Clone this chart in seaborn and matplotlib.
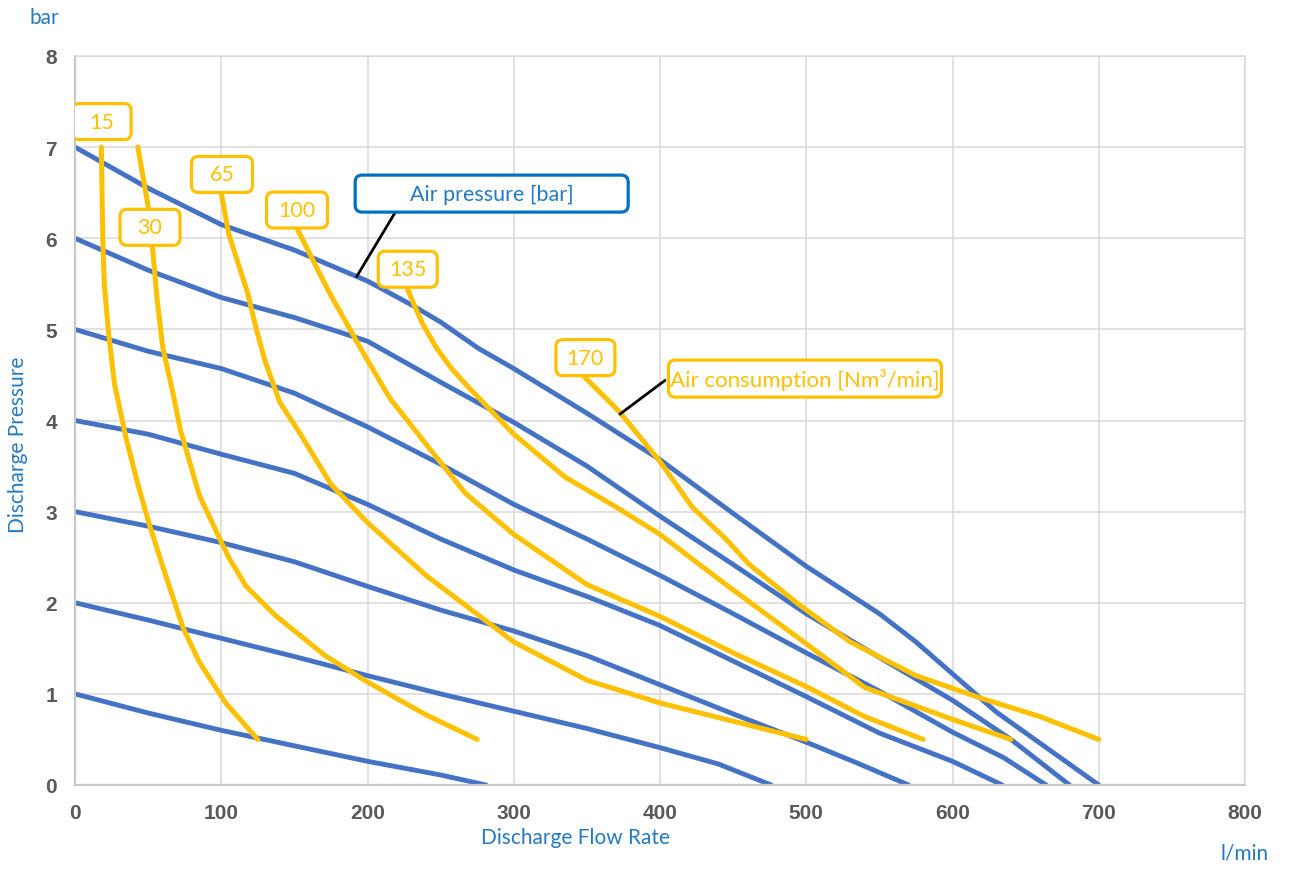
import matplotlib
matplotlib.use("Agg")
import matplotlib.pyplot as plt
from matplotlib.patches import FancyBboxPatch
import seaborn as sns
import pandas as pd

# air pressure curves [bar] -> (flow l/min, discharge pressure bar)
p1_x = [0, 50, 100, 150, 200, 250, 281]
p1_y = [1, 0.79, 0.6, 0.43, 0.26, 0.11, 0]
p2_x = [0, 50, 100, 150, 200, 250, 300, 350, 400, 440, 476]
p2_y = [2, 1.81, 1.61, 1.41, 1.2, 1.0, 0.81, 0.62, 0.41, 0.23, 0]
p3_x = [0, 50, 100, 150, 200, 250, 300, 350, 400, 450, 500, 535, 570]
p3_y = [3, 2.84, 2.66, 2.45, 2.18, 1.92, 1.69, 1.42, 1.1, 0.78, 0.47, 0.24, 0]
p4_x = [0, 50, 100, 150, 200, 250, 300, 350, 400, 450, 500, 550, 600, 634]
p4_y = [4, 3.85, 3.63, 3.42, 3.08, 2.7, 2.36, 2.07, 1.75, 1.36, 0.97, 0.57, 0.26, 0]
p5_x = [0, 50, 100, 150, 200, 250, 300, 350, 400, 450, 500, 550, 600, 635, 664]
p5_y = [5, 4.76, 4.57, 4.3, 3.93, 3.52, 3.08, 2.7, 2.3, 1.88, 1.45, 1.03, 0.58, 0.3, 0]
p6_x = [0, 50, 100, 150, 200, 250, 300, 350, 400, 450, 500, 550, 600, 640, 680]
p6_y = [6, 5.65, 5.35, 5.13, 4.87, 4.42, 3.98, 3.5, 2.95, 2.42, 1.88, 1.4, 0.93, 0.5, 0]
p7_x = [0, 50, 100, 150, 200, 230, 250, 276, 300, 350, 400, 450, 500, 550, 575, 600, 630, 665, 700]
p7_y = [7, 6.55, 6.15, 5.87, 5.53, 5.27, 5.08, 4.79, 4.57, 4.08, 3.57, 2.98, 2.4, 1.88, 1.57, 1.22, 0.8, 0.4, 0]
pressure_labels = ["1", "2", "3", "4", "5", "6", "7"]

# air consumption curves [Nm3/min]
c15_x = [18, 19, 20, 23, 27, 35, 43, 51, 62, 74, 85, 103, 125]
c15_y = [7.0, 6.0, 5.5, 4.95, 4.4, 3.8, 3.3, 2.85, 2.3, 1.72, 1.35, 0.9, 0.5]
c30_x = [43, 50, 53, 56, 60, 67, 72, 85, 99, 105, 117, 137, 171, 200, 240, 275]
c30_y = [7.0, 6.35, 5.9, 5.35, 4.8, 4.3, 3.9, 3.18, 2.7, 2.5, 2.18, 1.86, 1.42, 1.13, 0.77, 0.5]
c65_x = [100, 105, 110, 118, 124, 130, 140, 153, 175, 200, 240, 300, 350, 400, 450, 500]
c65_y = [6.5, 6.05, 5.8, 5.4, 5.0, 4.65, 4.2, 3.88, 3.3, 2.88, 2.3, 1.57, 1.15, 0.9, 0.7, 0.5]
c100_x = [152, 174, 195, 215, 242, 267, 300, 350, 400, 450, 500, 540, 580]
c100_y = [6.1, 5.4, 4.8, 4.25, 3.7, 3.2, 2.75, 2.2, 1.85, 1.45, 1.08, 0.75, 0.5]
c135_x = [226, 231, 238, 247, 257, 267, 300, 335, 370, 400, 445, 500, 540, 600, 640]
c135_y = [5.5, 5.3, 5.05, 4.8, 4.58, 4.4, 3.85, 3.38, 3.05, 2.75, 2.2, 1.55, 1.07, 0.72, 0.5]
c170_x = [347, 372, 400, 422, 445, 461, 495, 530, 575, 620, 660, 700]
c170_y = [4.5, 4.1, 3.55, 3.05, 2.7, 2.42, 1.98, 1.57, 1.2, 0.95, 0.75, 0.5]
consumption_labels = ["15", "30", "65", "100", "135", "170"]

x_ticks = [0, 100, 200, 300, 400, 500, 600, 700, 800]
y_ticks = [0, 1, 2, 3, 4, 5, 6, 7, 8]

BLUE = "#4472C4"
ORANGE = "#FFC000"
TEXT_BLUE = "#2479C4"
BOX_BLUE = "#0070C0"

pressure = [(p1_x, p1_y), (p2_x, p2_y), (p3_x, p3_y), (p4_x, p4_y),
            (p5_x, p5_y), (p6_x, p6_y), (p7_x, p7_y)]
consumption = [(c15_x, c15_y), (c30_x, c30_y), (c65_x, c65_y),
               (c100_x, c100_y), (c135_x, c135_y), (c170_x, c170_y)]


def to_frame(curves, names):
    parts = []
    for (xs, ys), name in zip(curves, names):
        parts.append(pd.DataFrame({"flow": xs, "pressure": ys, "curve": name}))
    return pd.concat(parts, ignore_index=True)


df_p = to_frame(pressure, pressure_labels)
df_c = to_frame(consumption, consumption_labels)

sns.set_theme(style="white")
plt.rcParams["font.family"] = ["Lato", "DejaVu Sans"]

W, H = 1290, 870
AX_L, AX_B, AX_W, AX_H = 75, 84, 1170, 729
fig = plt.figure(figsize=(W / 100, H / 100), dpi=100)
ax = fig.add_axes([AX_L / W, AX_B / H, AX_W / W, AX_H / H])

sns.lineplot(data=df_p, x="flow", y="pressure", hue="curve", units="curve",
             estimator=None, sort=False, palette=[BLUE] * 7, lw=3.5,
             legend=False, ax=ax, zorder=2)
sns.lineplot(data=df_c, x="flow", y="pressure", hue="curve", units="curve",
             estimator=None, sort=False, palette=[ORANGE] * 6, lw=3.6,
             legend=False, ax=ax, zorder=3)
for line in ax.lines:
    line.set_solid_capstyle("round")
    line.set_solid_joinstyle("round")

ax.set_xlim(0, 800)
ax.set_ylim(0, 8)
ax.set_xticks(x_ticks)
ax.set_yticks(y_ticks)
ax.grid(True, color="#D9D9D9", lw=1.1)
ax.set_axisbelow(True)
for side in ["top", "right"]:
    ax.spines[side].set_color("#D9D9D9")
    ax.spines[side].set_linewidth(1.1)
for side in ["left", "bottom"]:
    ax.spines[side].set_color("#C8C8C8")
    ax.spines[side].set_linewidth(1.6)
ax.tick_params(axis="both", length=0, labelsize=15, labelcolor="#595959")
ax.tick_params(axis="x", pad=13)
ax.tick_params(axis="y", pad=13)
for lab in ax.get_xticklabels() + ax.get_yticklabels():
    lab.set_fontweight("bold")
    lab.set_family(["Liberation Sans", "DejaVu Sans"])
ax.set_xlabel("")
ax.set_ylabel("")

# pixel -> data scale for the tag boxes
ux = 800 / AX_W
uy = 8 / AX_H


def tag(cx, cy, text, w_px, h_px, edge, color, size=15):
    w, h = w_px * ux, h_px * uy
    box = FancyBboxPatch((cx - w / 2, cy - h / 2), w, h,
                         boxstyle="round,pad=0,rounding_size=%.3f" % (7 * ux),
                         mutation_aspect=uy / ux, fc="white", ec=edge,
                         lw=2.3, zorder=5)
    ax.add_patch(box)
    ax.text(cx, cy, text, color=color, fontsize=size, ha="center",
            va="center", zorder=6)


tag_pos = {"15": (18.2, 7.28), "30": (51.3, 6.12), "65": (100.5, 6.70),
           "100": (151.8, 6.31), "135": (227.5, 5.66), "170": (349, 4.69)}
tag_w = {"15": 59, "30": 60, "65": 61, "100": 61, "135": 59, "170": 59}
for name in consumption_labels:
    tx, ty = tag_pos[name]
    tag(tx, ty, name, tag_w[name], 36, ORANGE, ORANGE, 15.5)

ax.plot([218.8, 192.6], [6.28, 5.58], color="black", lw=2, zorder=4)
tag(284.9, 6.49, "Air pressure [bar]", 273, 37, BOX_BLUE, TEXT_BLUE, 15.5)
ax.plot([403.4, 372.6], [4.44, 4.07], color="black", lw=2, zorder=4)
tag(499.1, 4.46, "Air consumption [Nm³/min]", 273, 37, ORANGE, ORANGE, 16)

ax.text(0.428, -0.071, "Discharge Flow Rate", transform=ax.transAxes,
        color=TEXT_BLUE, fontsize=15, ha="center", va="center")
ax.text(-0.0487, 0.468, "Discharge Pressure", transform=ax.transAxes,
        color=TEXT_BLUE, fontsize=15, ha="center", va="center", rotation=90)
ax.text(-0.026, 1.053, "bar", transform=ax.transAxes,
        color=TEXT_BLUE, fontsize=15, ha="center", va="center")
ax.text(1.0, -0.092, "l/min", transform=ax.transAxes,
        color=TEXT_BLUE, fontsize=15, ha="center", va="center")

fig.savefig("out.png", dpi=100)
